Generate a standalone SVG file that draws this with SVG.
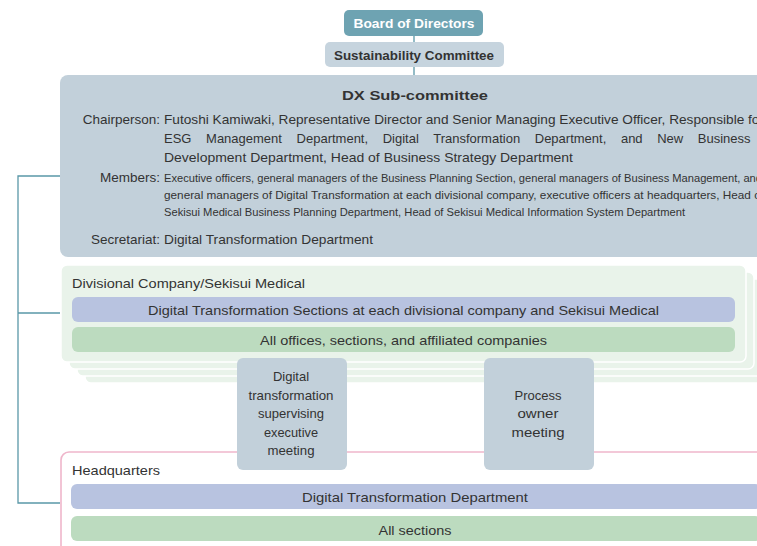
<svg xmlns="http://www.w3.org/2000/svg" width="757" height="546" viewBox="0 0 757 546">
<style>
text{font-family:"Liberation Sans",Arial,sans-serif;fill:#333;font-size:13px}
.b{font-weight:bold}
.c{text-anchor:middle}
.e{text-anchor:end}
.s{font-size:11px}
.l{font-size:13.5px}
.w{fill:#fff}
.conn{fill:none;stroke:#5a98a8;stroke-width:1.3}
.gray{fill:#c2d0da}
.lg{fill:#e9f3ea;stroke:#fff;stroke-width:1.5}
.pu{fill:#b8c3e0}
.gr{fill:#bcdbbf}
</style>
<g id="connectors">
<path class="conn" d="M414,35V42M414,67V75M60,176H18V503H60M18,313H60"/>
</g>
<g id="board">
<rect x="344" y="10" width="139" height="26" rx="5" fill="#6ea3b2"/>
<text class="b c w" x="414" y="28" textLength="121" lengthAdjust="spacingAndGlyphs">Board of Directors</text>
</g>
<g id="sustainability">
<rect x="325" y="42" width="179" height="25" rx="5" fill="#c6d4de"/>
<text class="b c" x="414" y="60" font-size="12" textLength="160" lengthAdjust="spacingAndGlyphs">Sustainability Committee</text>
</g>
<g id="dx">
<rect class="gray" x="60" y="75" width="710" height="182" rx="8"/>
<text class="b c" x="415" y="100" font-size="16" textLength="146" lengthAdjust="spacingAndGlyphs">DX Sub-committee</text>
<text class="e l" x="160" y="124">Chairperson:</text>
<text x="164" y="124" textLength="600" lengthAdjust="spacingAndGlyphs">Futoshi Kamiwaki, Representative Director and Senior Managing Executive Officer, Responsible for</text>
<text x="164" y="143" word-spacing="11">ESG Management Department, Digital Transformation Department, and New Business</text>
<text x="164" y="162" textLength="409" lengthAdjust="spacingAndGlyphs">Development Department, Head of Business Strategy Department</text>
<text class="e l" x="160" y="182">Members:</text>
<text class="s" x="164" y="182" textLength="598" lengthAdjust="spacingAndGlyphs">Executive officers, general managers of the Business Planning Section, general managers of Business Management, and</text>
<text class="s" x="164" y="199" textLength="600" lengthAdjust="spacingAndGlyphs">general managers of Digital Transformation at each divisional company, executive officers at headquarters, Head of</text>
<text class="s" x="164" y="216" textLength="521" lengthAdjust="spacingAndGlyphs">Sekisui Medical Business Planning Department, Head of Sekisui Medical Information System Department</text>
<text class="e l" x="160" y="244">Secretariat:</text>
<text x="164" y="244" textLength="209" lengthAdjust="spacingAndGlyphs">Digital Transformation Department</text>
</g>
<g id="divisional">
<rect class="lg" x="85" y="286" width="685" height="97" rx="6"/>
<rect class="lg" x="77" y="279" width="685" height="97" rx="6"/>
<rect class="lg" x="69" y="272" width="685" height="97" rx="6"/>
<rect class="lg" x="61" y="265" width="685" height="97" rx="6"/>
<text x="72" y="288" textLength="233" lengthAdjust="spacingAndGlyphs">Divisional Company/Sekisui Medical</text>
<rect class="pu" x="72" y="297" width="663" height="25" rx="6"/>
<text class="c" x="403.5" y="315" textLength="511" lengthAdjust="spacingAndGlyphs">Digital Transformation Sections at each divisional company and Sekisui Medical</text>
<rect class="gr" x="72" y="327" width="663" height="25" rx="6"/>
<text class="c" x="403.5" y="345" textLength="287" lengthAdjust="spacingAndGlyphs">All offices, sections, and affiliated companies</text>
</g>
<g id="headquarters">
<rect x="61" y="452" width="730" height="130" rx="8" fill="#fff" stroke="#efb6cb" stroke-width="1.6"/>
<text x="72" y="475" textLength="88" lengthAdjust="spacingAndGlyphs">Headquarters</text>
<rect class="pu" x="71" y="484" width="690" height="25" rx="6"/>
<text class="c" x="415" y="502" textLength="226" lengthAdjust="spacingAndGlyphs">Digital Transformation Department</text>
<rect class="gr" x="71" y="516" width="690" height="25" rx="6"/>
<text class="c" x="415" y="535" textLength="73" lengthAdjust="spacingAndGlyphs">All sections</text>
</g>
<g id="dx-exec-meeting">
<rect class="gray" x="237" y="358" width="110" height="112" rx="6"/>
<text class="c" x="291" y="381">Digital</text>
<text class="c" x="291" y="400" textLength="85" lengthAdjust="spacingAndGlyphs">transformation</text>
<text class="c" x="291" y="418" textLength="66" lengthAdjust="spacingAndGlyphs">supervising</text>
<text class="c" x="291" y="437" textLength="54" lengthAdjust="spacingAndGlyphs">executive</text>
<text class="c" x="291" y="455" textLength="47" lengthAdjust="spacingAndGlyphs">meeting</text>
</g>
<g id="process-owner-meeting">
<rect class="gray" x="484" y="358" width="110" height="112" rx="6"/>
<text class="c" x="538" y="400" textLength="47" lengthAdjust="spacingAndGlyphs">Process</text>
<text class="c" x="538" y="418" textLength="41" lengthAdjust="spacingAndGlyphs">owner</text>
<text class="c" x="538" y="437" textLength="53" lengthAdjust="spacingAndGlyphs">meeting</text>
</g>
</svg>
